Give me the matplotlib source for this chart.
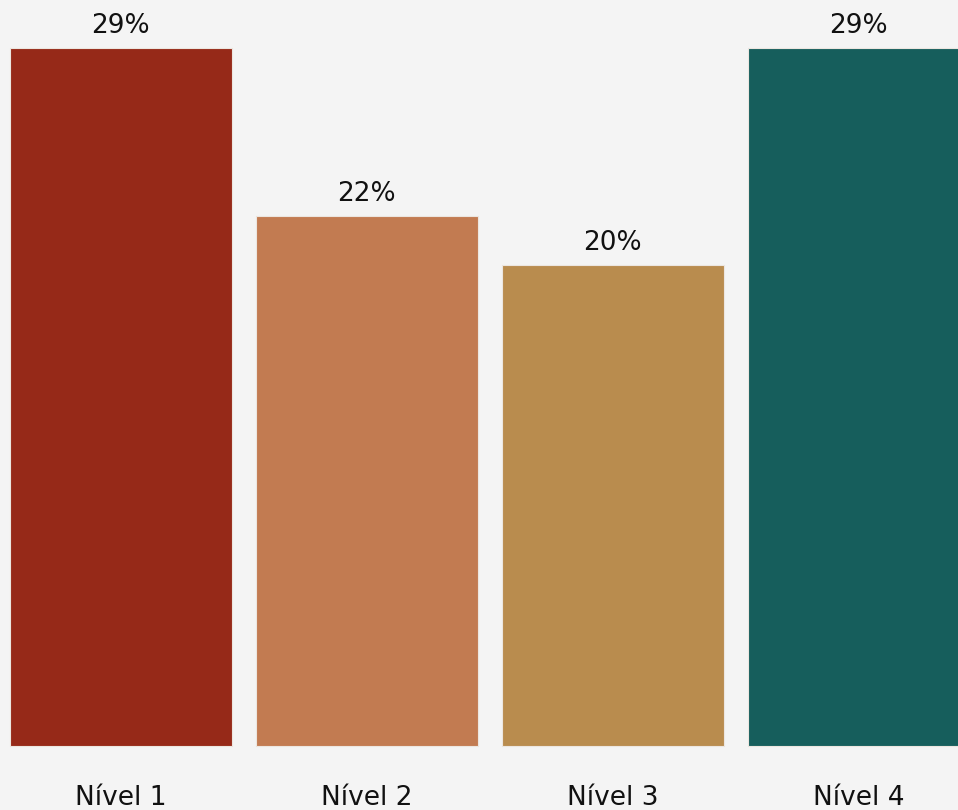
import matplotlib
matplotlib.use("Agg")
import matplotlib.pyplot as plt

categories = ["Nível 1", "Nível 2", "Nível 3", "Nível 4"]
values = [29, 22, 20, 29]
colors = ["#962918", "#c27b51", "#b98c4e", "#165e5c"]

W, H, DPI = 958, 810, 100
bg = "#f4f4f4"
fig = plt.figure(figsize=(W / DPI, H / DPI), dpi=DPI, facecolor=bg)
ax = fig.add_axes([0, 0, 1, 1])
ax.set_facecolor(bg)

pitch_px = 246.0
first_center_px = 120.5
xmin = -first_center_px / pitch_px
ax.set_xlim(xmin, xmin + W / pitch_px)

px_per_unit = 698 / 29
base_px = 64
ymin = -base_px / px_per_unit
ax.set_ylim(ymin, ymin + H / px_per_unit)

x = list(range(len(categories)))
bars = ax.bar(x, values, width=222 / pitch_px, color=colors,
              edgecolor="#ece6e0", linewidth=0.8)

font = "DejaVu Sans"
for xi, v in zip(x, values):
    ax.annotate(f"{v}%", (xi, v), xytext=(0, 9), textcoords="offset pixels",
                ha="center", va="bottom", fontsize=19, family=font,
                color="#111111")

for xi, c in zip(x, categories):
    ax.annotate(c, (xi, ymin), xytext=(0, 25), textcoords="offset pixels",
                ha="center", va="top", fontsize=19, family=font,
                color="#111111")

ax.axis("off")
fig.savefig("out.png", dpi=DPI, facecolor=bg)
